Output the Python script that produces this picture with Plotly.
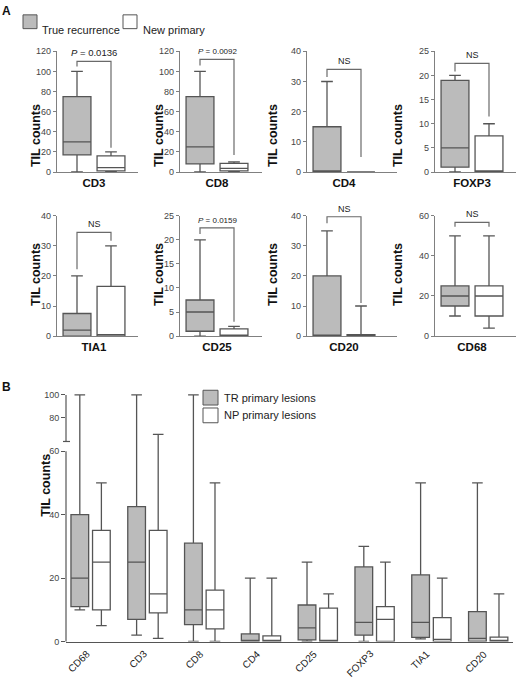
import plotly.graph_objects as go

W, H = 518, 680

# ---------------- Panel A data ----------------
markers_a = ["CD3", "CD8", "CD4", "FOXP3", "TIA1", "CD25", "CD20", "CD68"]
tr_low = [0, 0, 0, 0, 0, 0, 0, 10]
tr_q1 = [17, 8, 0, 1, 0, 1, 0, 15]
tr_med = [30, 25, 0, 5, 2, 5, 0, 20]
tr_q3 = [75, 75, 15, 19, 7.5, 7.5, 20, 25]
tr_high = [100, 100, 30, 20, 20, 20, 35, 50]
np_low = [0, 0, 0, 0, 0, 0, 0, 4]
np_q1 = [1.2, 1.2, 0, 0, 0, 0, 0, 10]
np_med = [4.4, 3.7, 0, 0, 0.5, 0, 0, 20]
np_q3 = [16, 8.5, 0, 7.5, 16.5, 1.5, 0.5, 25]
np_high = [20, 10, 0, 10, 30, 2, 10, 50]
y_max = [120, 120, 40, 25, 40, 25, 40, 60]
y_step = [20, 20, 10, 5, 10, 5, 10, 20]
stat_text = ["<i>P</i> = 0.0136", "<i>P</i> = 0.0092", "NS", "NS",
             "NS", "<i>P</i> = 0.0159", "NS", "NS"]
bracket_h = [110, 112, 34, 22.5, 34.5, 22.5, 39.7, 56.7]
bracket_left = [105, 106, 31.5, 20.8, 22.2, 21.2, 37.5, 54.6]
bracket_right = [24, 17, 5, 11.5, 31.7, 3, 11, 54.6]

# ---------------- Panel B data ----------------
markers_b = ["CD68", "CD3", "CD8", "CD4", "CD25", "FOXP3", "TIA1", "CD20"]
b_tr_low = [10, 2, 0, 0, 0, 0, 0.8, 0]
b_tr_q1 = [11, 7, 5.3, 0, 0.5, 2, 1.3, 0]
b_tr_med = [20, 25, 10, 0, 4.3, 6, 6, 1]
b_tr_q3 = [40, 42.5, 31, 2.4, 11.5, 23.5, 21, 9.4]
b_tr_high = [100, 100, 100, 20, 25, 30, 50, 50]
b_np_low = [5, 1, 0, 0, 0, 0, 0, 0]
b_np_q1 = [10, 9, 4, 0, 0, 0, 0, 0]
b_np_med = [25, 15, 10, 0, 0, 7, 0.7, 0]
b_np_q3 = [35, 35, 16.2, 1.8, 10.5, 11, 7.5, 1.4]
b_np_high = [50, 65, 50, 20, 15, 25, 20, 15]
b_lower_ticks = [0, 20, 40, 60]
b_upper_ticks = [80, 100]

legend_a = ["True recurrence", "New primary"]
legend_b = ["TR primary lesions", "NP primary lesions"]

# ---------------- styles ----------------
LINE = "#555555"
TR_FILL = "#bbbbbb"
NP_FILL = "#ffffff"
AXIS = "#808080"
FONT = "Liberation Sans, Arial, sans-serif"


def px_x(p):
    return p / W


def px_y(p):
    return 1 - p / H


fig = go.Figure()
layout = {}
annotations = []
shapes = []

col_left = [57, 180, 307, 435]
col_right = [138, 262, 397, 516]
row_top = [47, 214]
row_bottom = [169.5, 336]
title_x = [27, 150, 273, 407]
title_y = [99, 274]
stat_size = [9.5, 8, 9, 9, 9, 8, 9, 9]
UNIT = 34.0  # px between the two boxes

for i, name in enumerate(markers_a):
    r, c = divmod(i, 4)
    n = i + 1
    sfx = "" if n == 1 else str(n)
    xa, ya = f"x{sfx}", f"y{sfx}"
    groups = [
        (0, tr_low[i], tr_q1[i], tr_med[i], tr_q3[i], tr_high[i], TR_FILL),
        (1, np_low[i], np_q1[i], np_med[i], np_q3[i], np_high[i], NP_FILL),
    ]
    for pos, lo, q1, md, q3, hi, fill in groups:
        fig.add_trace(go.Box(
            x=[pos], lowerfence=[lo], q1=[q1], median=[md], q3=[q3],
            upperfence=[hi], orientation="v", fillcolor=fill,
            line=dict(color=LINE, width=1.3), width=0.82, whiskerwidth=0.42,
            boxpoints=False, xaxis=xa, yaxis=ya, showlegend=False,
            hoverinfo="skip"))
    fig.add_trace(go.Scatter(
        x=[0, 0, 1, 1],
        y=[bracket_left[i], bracket_h[i], bracket_h[i], bracket_right[i]],
        mode="lines", line=dict(color="#6a6a6a", width=1.2),
        xaxis=xa, yaxis=ya, showlegend=False, hoverinfo="skip"))
    annotations.append(dict(
        x=0.5, y=bracket_h[i], xref=xa, yref=ya, text=stat_text[i],
        showarrow=False, yanchor="bottom", yshift=1,
        font=dict(size=stat_size[i], color="#222", family=FONT)))
    w = col_right[c] - col_left[c]
    layout[f"xaxis{sfx}"] = dict(
        domain=[px_x(col_left[c]), px_x(col_right[c])],
        range=[-20 / UNIT, (w - 20) / UNIT], anchor=ya,
        showline=True, linecolor=AXIS, linewidth=1.2, ticks="",
        tickvals=[0.5], ticktext=[f"<b>{name}</b>"],
        tickfont=dict(size=11.5, color="#111", family=FONT),
        ticklabelstandoff=0,
        showgrid=False, zeroline=False, fixedrange=True)
    layout[f"yaxis{sfx}"] = dict(
        domain=[px_y(row_bottom[r]), px_y(row_top[r])],
        range=[0, y_max[i]], anchor=xa,
        showline=True, linecolor=AXIS, linewidth=1.2,
        ticks="outside", ticklen=3, tickcolor=AXIS, tickwidth=1,
        tickvals=list(range(0, y_max[i] + 1, y_step[i])),
        tickfont=dict(size=9, color="#444", family=FONT),
        showgrid=False, zeroline=False, fixedrange=True)
    annotations.append(dict(
        x=px_x(title_x[c]), y=px_y(title_y[r]), xref="paper", yref="paper",
        text="<b>TIL counts</b>", textangle=-90, showarrow=False,
        font=dict(size=12.5, color="#111", family=FONT)))

# ---------------- Panel B ----------------
B_LEFT, B_RIGHT = 66, 513
B_ZERO, B_BREAK, B_TOP = 646, 441.6, 394.5
CAT = 56.8
b_xrange = [-(90.6 - B_LEFT) / CAT, (B_RIGHT - 90.6) / CAT]
lower_max = 60 + (452.8 - B_BREAK) / 3.214

for ya in ["y9", "y10"]:
    for nm, lo, q1, md, q3, hi, fill, og in [
        (legend_b[0], b_tr_low, b_tr_q1, b_tr_med, b_tr_q3, b_tr_high, TR_FILL, "tr"),
        (legend_b[1], b_np_low, b_np_q1, b_np_med, b_np_q3, b_np_high, NP_FILL, "np"),
    ]:
        fig.add_trace(go.Box(
            x=markers_b, lowerfence=lo, q1=q1, median=md, q3=q3,
            upperfence=hi, orientation="v", fillcolor=fill, name=nm,
            line=dict(color=LINE, width=1.3), whiskerwidth=0.6,
            boxpoints=False, xaxis="x9", yaxis=ya, showlegend=False,
            alignmentgroup="B", offsetgroup=og, hoverinfo="skip"))

layout["xaxis9"] = dict(
    domain=[px_x(B_LEFT), px_x(B_RIGHT)], range=b_xrange, anchor="y9",
    type="category", categoryorder="array", categoryarray=markers_b,
    showline=True, linecolor=LINE, linewidth=1.2, ticks="",
    showticklabels=False,
    showgrid=False, zeroline=False, fixedrange=True)
layout["yaxis9"] = dict(
    domain=[px_y(B_ZERO), px_y(B_BREAK)], range=[0, lower_max], anchor="x9",
    showline=False, ticks="outside", ticklen=4, tickcolor=LINE,
    tickvals=b_lower_ticks, tickfont=dict(size=9, color="#444", family=FONT),
    showgrid=False, zeroline=False, fixedrange=True)
layout["yaxis10"] = dict(
    domain=[px_y(B_BREAK), px_y(B_TOP)], range=[60, 101], anchor="x9",
    showline=False, ticks="outside", ticklen=4, tickcolor=LINE,
    tickvals=b_upper_ticks, tickfont=dict(size=9, color="#444", family=FONT),
    showgrid=False, zeroline=False, fixedrange=True)

# rotated category labels of panel B, anchored at their category
for name in markers_b:
    annotations.append(dict(
        x=name, y=0, xref="x9", yref="y9", text=name, textangle=-45,
        showarrow=False, xanchor="right", yanchor="top", xshift=4, yshift=-4,
        font=dict(size=10, color="#222", family=FONT)))

# broken y axis line of panel B
shapes.append(dict(type="line", xref="paper", yref="paper",
                   x0=px_x(B_LEFT), x1=px_x(B_LEFT), y0=px_y(B_ZERO), y1=px_y(452.8),
                   line=dict(color=LINE, width=1.2)))
shapes.append(dict(type="line", xref="paper", yref="paper",
                   x0=px_x(B_LEFT), x1=px_x(B_LEFT), y0=px_y(443), y1=px_y(395.7),
                   line=dict(color=LINE, width=1.2)))
shapes.append(dict(type="line", xref="paper", yref="paper",
                   x0=px_x(B_LEFT - 3), x1=px_x(B_LEFT + 4), y0=px_y(443), y1=px_y(443),
                   line=dict(color=LINE, width=1.2)))

annotations.append(dict(
    x=px_x(37), y=px_y(522), xref="paper", yref="paper",
    text="<b>TIL counts</b>", textangle=-90, showarrow=False,
    font=dict(size=12.5, color="#111", family=FONT)))

# panel letters
annotations.append(dict(x=0, y=1, xref="paper", yref="paper", text="<b>A</b>",
                        showarrow=False, xanchor="left", yanchor="top", yshift=3,
                        font=dict(size=12, color="#111", family=FONT)))
annotations.append(dict(x=0, y=px_y(388), xref="paper", yref="paper", text="<b>B</b>",
                        showarrow=False, xanchor="left",
                        font=dict(size=12, color="#111", family=FONT)))

# legend A (top)
for (x0, x1, tx), fill, label in zip([(23, 37, 40), (123, 137, 141)],
                                      [TR_FILL, NP_FILL], legend_a):
    shapes.append(dict(type="rect", xref="paper", yref="paper",
                       x0=px_x(x0), x1=px_x(x1), y0=px_y(24), y1=px_y(10),
                       fillcolor=fill, line=dict(color=LINE, width=1)))
    annotations.append(dict(x=px_x(tx), y=px_y(17), xref="paper", yref="paper",
                            text=label, showarrow=False, xanchor="left",
                            font=dict(size=11, color="#222", family=FONT)))

# legend B
for (y0, y1), fill, label in zip([(391, 406), (409, 424)], [TR_FILL, NP_FILL], legend_b):
    shapes.append(dict(type="rect", xref="paper", yref="paper",
                       x0=px_x(203), x1=px_x(218), y0=px_y(y1), y1=px_y(y0),
                       fillcolor=fill, line=dict(color=LINE, width=1)))
    annotations.append(dict(x=px_x(222), y=px_y((y0 + y1) / 2), xref="paper", yref="paper",
                            text=label, showarrow=False, xanchor="left",
                            font=dict(size=11, color="#222", family=FONT)))

fig.update_layout(
    width=W, height=H, autosize=False,
    margin=dict(l=0, r=0, t=0, b=0),
    paper_bgcolor="white", plot_bgcolor="white",
    boxmode="group", boxgap=0.24, boxgroupgap=0.18,
    font=dict(family=FONT),
    annotations=annotations, shapes=shapes,
    showlegend=False, hovermode=False,
    **layout)

fig.write_html(
    "out.html", config={"displayModeBar": False},
    post_script="document.body.style.margin='0';document.body.style.padding='0';"
                "document.body.style.overflow='hidden';")
